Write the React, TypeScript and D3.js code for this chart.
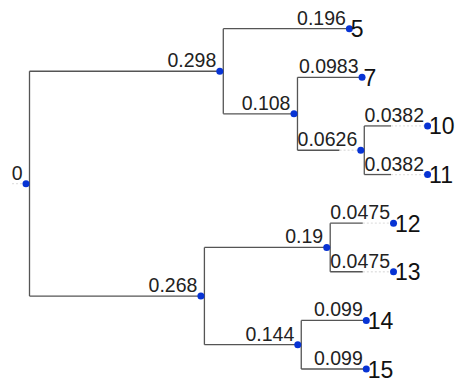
import React from "react";
import * as d3 from "d3";

const nodeIds = ["0", "a", "b", "5", "c", "7", "d", "10", "11", "e", "12", "13", "f", "14", "15"];
const parentIds = ["", "0", "0", "a", "a", "c", "c", "d", "d", "b", "e", "e", "b", "f", "f"];
const branchValues = [0, 0.298, 0.268, 0.196, 0.108, 0.0983, 0.0626, 0.0382, 0.0382, 0.19, 0.0475, 0.0475, 0.144, 0.099, 0.099];
const branchLabels = ["0", "0.298", "0.268", "0.196", "0.108", "0.0983", "0.0626", "0.0382", "0.0382", "0.19", "0.0475", "0.0475", "0.144", "0.099", "0.099"];
const leafNames = ["5", "7", "10", "11", "12", "13", "14", "15"];

const W = 457;
const H = 380;
const ROOT_X = 26;
const DOT_R = 3.5;
const LINE_OFF = 3.5;
const MIN_LEN = 63.3;

type Row = { id: string; parent: string; value: number; label: string };

export default function App() {
  const rows: Row[] = nodeIds.map((id, i) => ({
    id,
    parent: parentIds[i],
    value: branchValues[i],
    label: branchLabels[i],
  }));
  const root = d3
    .stratify<Row>()
    .id((d) => d.id)
    .parentId((d) => (d.parent === "" ? null : d.parent))(rows);

  const lenScale = d3.scaleLinear().domain([0, 1]).range([2.7, 632.2]);
  const yScale = d3.scaleLinear().domain([0, leafNames.length - 1]).range([28.7, 369]);

  const pos = new Map<string, { x: number; y: number; solidEnd: number }>();
  root.each((n: any) => {
    if (!n.parent) {
      pos.set(n.id, { x: ROOT_X, y: 0, solidEnd: ROOT_X });
    } else {
      const p = pos.get(n.parent.id)!;
      const start = p.x + LINE_OFF;
      const raw = lenScale(n.data.value);
      const len = Math.max(raw, MIN_LEN);
      pos.set(n.id, { x: start + len, y: 0, solidEnd: start + raw });
    }
  });
  root.eachAfter((n: any) => {
    const p = pos.get(n.id)!;
    if (!n.children) {
      p.y = yScale(leafNames.indexOf(n.id));
    } else {
      const first = pos.get(n.children[0].id)!;
      const last = pos.get(n.children[n.children.length - 1].id)!;
      p.y = (first.y + last.y) / 2;
    }
  });

  const nodes = root.descendants();
  const lineColor = "#555";

  return (
    <svg
      width={W}
      height={H}
      style={{ position: "absolute", left: 0, top: 0, background: "#fff" }}
      fontFamily="'Liberation Sans', Arial, sans-serif"
    >
      <g>
        {nodes.map((n: any) => {
          const p = pos.get(n.id)!;
          const els: any[] = [];
          if (n.children) {
            const first = pos.get(n.children[0].id)!;
            const last = pos.get(n.children[n.children.length - 1].id)!;
            els.push(
              <line key={"v" + n.id} x1={p.x + LINE_OFF} x2={p.x + LINE_OFF} y1={first.y} y2={last.y} stroke={lineColor} strokeWidth={1.3} />
            );
          }
          if (n.parent) {
            const pp = pos.get(n.parent.id)!;
            const sx = pp.x + LINE_OFF;
            const solidEnd = Math.min(p.solidEnd, p.x);
            els.push(
              <line key={"h" + n.id} x1={sx} x2={solidEnd} y1={p.y} y2={p.y} stroke={lineColor} strokeWidth={1.3} />
            );
            if (solidEnd < p.x - 0.5) {
              els.push(
                <line key={"f" + n.id} x1={solidEnd} x2={p.x} y1={p.y} y2={p.y} stroke="#e2e2e2" strokeWidth={1.3} strokeDasharray="2,2" />
              );
            }
          } else {
            els.push(
              <line key={"f" + n.id} x1={p.x - 14} x2={p.x - 3} y1={p.y} y2={p.y} stroke="#e2e2e2" strokeWidth={1.3} strokeDasharray="2,2" />
            );
          }
          return <g key={"g" + n.id}>{els}</g>;
        })}
      </g>
      <g>
        {nodes.map((n: any) => {
          const p = pos.get(n.id)!;
          return <circle key={"c" + n.id} cx={p.x} cy={p.y} r={DOT_R} fill="#0733d4" />;
        })}
      </g>
      <g>
        {nodes.map((n: any) => {
          const p = pos.get(n.id)!;
          return (
            <text key={"t" + n.id} x={p.x - 3.5} y={p.y - 4} textAnchor="end" fontSize={19.5} fill="#222">
              {n.data.label}
            </text>
          );
        })}
        {nodes
          .filter((n: any) => !n.children)
          .map((n: any) => {
            const p = pos.get(n.id)!;
            return (
              <text key={"l" + n.id} x={p.x + 1.5} y={p.y + 8.5} fontSize={23} fill="#111">
                {n.id}
              </text>
            );
          })}
      </g>
    </svg>
  );
}
